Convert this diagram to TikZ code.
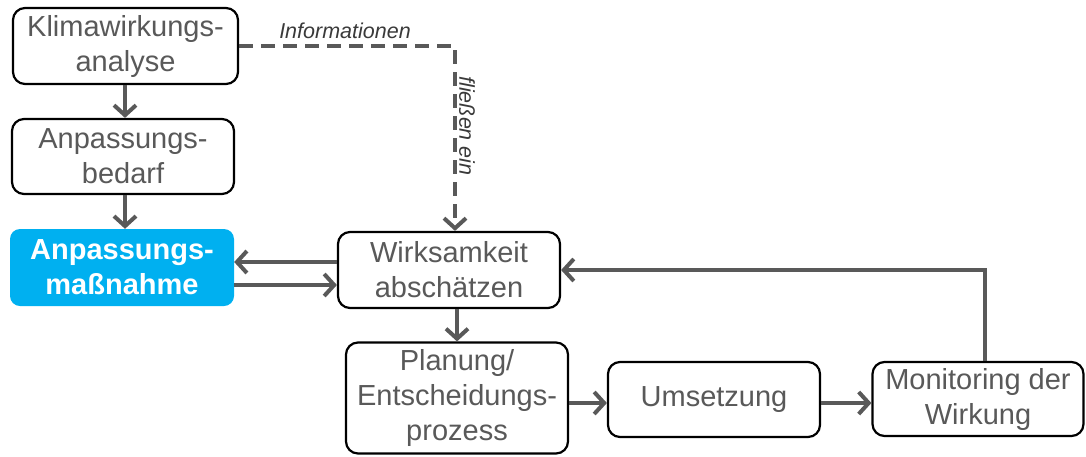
\documentclass[tikz,border=0pt]{standalone}
\usepackage{fontspec}
\setmainfont{Liberation Sans}
\usetikzlibrary{arrows.meta,calc}
\definecolor{linegray}{HTML}{595959}
\definecolor{txtgray}{HTML}{595959}
\definecolor{lblgray}{HTML}{3A3A3A}
\definecolor{massblue}{HTML}{00B0F0}
\tikzset{
  procbox/.style={draw=black, line width=2.2pt, rounded corners=12pt, fill=white,
    text=txtgray, align=center, inner sep=0pt, font=\fontsize{29}{35}\selectfont},
  bluebox/.style={fill=massblue, draw=none, rounded corners=10pt, text=white,
    align=center, inner sep=0pt, font=\fontsize{29}{35}\selectfont\bfseries},
  flow/.style={draw=linegray, line width=4pt, -{Straight Barb[length=10pt,width=22pt]}},
  infoflow/.style={flow, dash pattern=on 14pt off 8pt},
  lbl/.style={text=lblgray, font=\fontsize{21.5}{26}\selectfont\itshape, inner sep=0pt}
}
\begin{document}
\begin{tikzpicture}[x=1pt,y=-1pt]
\useasboundingbox (0,0) rectangle (1086,456);
\node[procbox, minimum width=225pt, minimum height=76pt] (klima) at (125.5,46) {Klimawirkungs-\\analyse};
\node[procbox, minimum width=222pt, minimum height=75pt] (bedarf) at (123,156.5) {Anpassungs-\\bedarf};
\node[bluebox, minimum width=224pt, minimum height=77pt] (mass) at (122,267.5) {Anpassungs-\\maßnahme};
\node[procbox, minimum width=222pt, minimum height=76pt] (wirk) at (449,270) {Wirksamkeit\\abschätzen};
\node[procbox, minimum width=222pt, minimum height=111pt] (plan) at (457,398) {Planung/\\Entscheidungs-\\prozess};
\node[procbox, minimum width=212pt, minimum height=75pt] (ums) at (714,399.5) {Umsetzung};
\node[procbox, minimum width=211pt, minimum height=74pt] (mon) at (978,399) {Monitoring der\\Wirkung};

\draw[flow] (klima.south -| 125,0) -- (bedarf.north -| 125,0);
\draw[flow] (bedarf.south -| 125,0) -- (mass.north -| 125,0);
\draw[flow] ([yshift=8pt]wirk.west) -- ([yshift=8pt]wirk.west -| mass.east);
\draw[flow] ([yshift=-15pt]wirk.west -| mass.east) -- ([yshift=-15pt]wirk.west);
\draw[flow] (plan.north |- wirk.south) -- (plan.north);
\draw[flow] (plan.east |- 0,403) -- (ums.west |- 0,403);
\draw[flow] (ums.east |- 0,403) -- (mon.west |- 0,403);
\draw[flow] ([xshift=7pt]mon.north) |- (wirk.east);
\draw[infoflow] (klima.east) -| ([xshift=6pt]wirk.north);

\node[lbl] (info) at (345,31) {Informationen};
\node[lbl, rotate=-90] (ein) at (467,126) {fließen ein};
\end{tikzpicture}
\end{document}
